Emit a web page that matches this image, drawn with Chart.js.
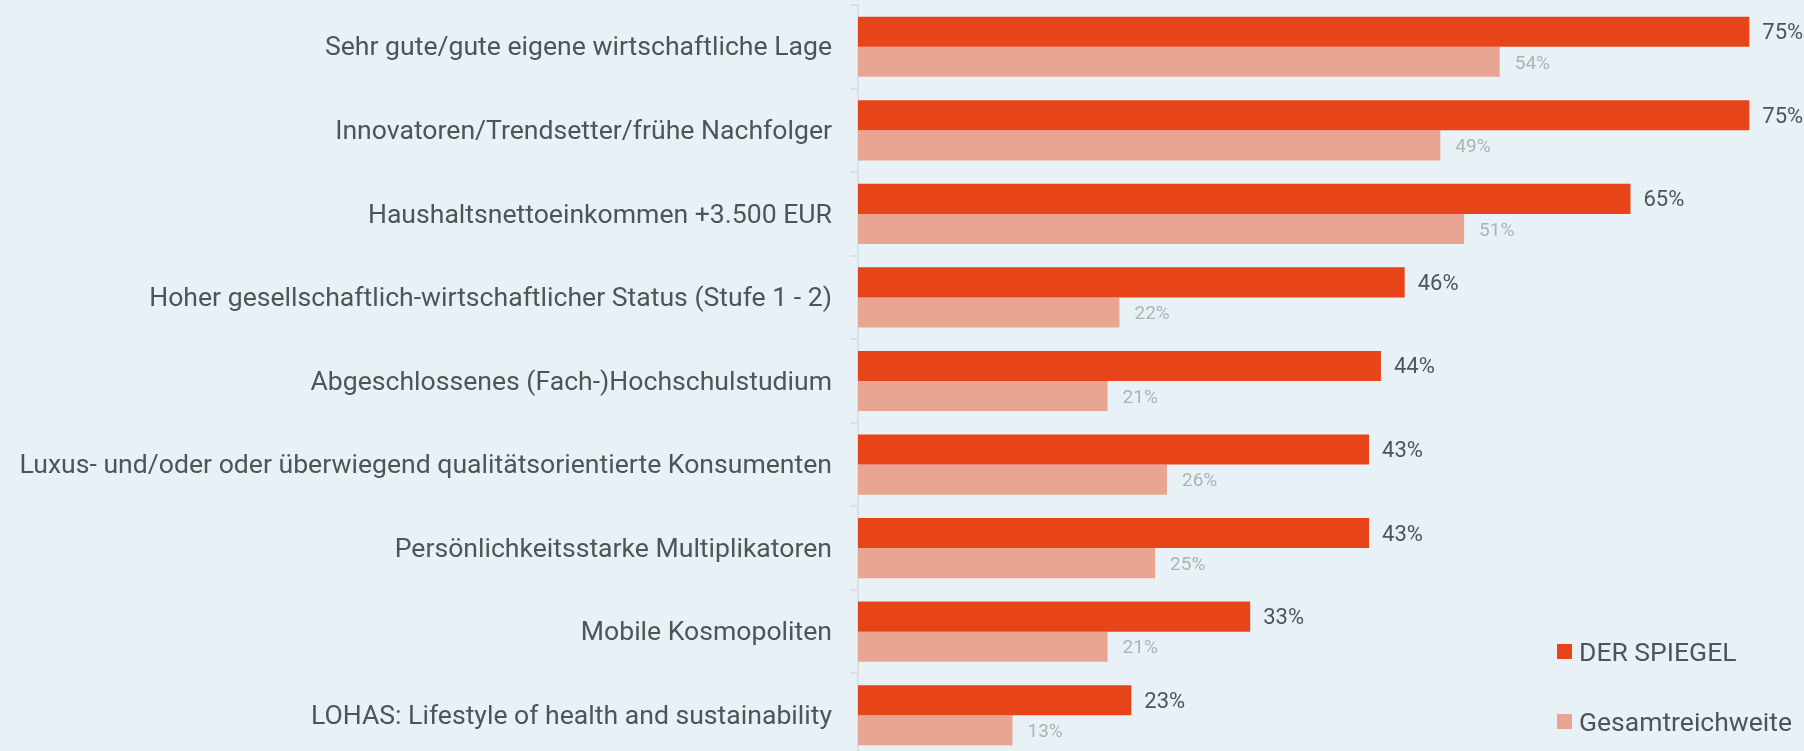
<!DOCTYPE html>
<html lang="de">
<head>
<meta charset="utf-8">
<title>DER SPIEGEL – Reichweite</title>
<script src="https://cdn.jsdelivr.net/npm/chart.js@4/dist/chart.umd.min.js"></script>
<style>
  html, body {
    margin: 0;
    padding: 0;
    width: 1804px;
    height: 751px;
    overflow: hidden;
    background: #e8f1f6;
    font-family: Roboto, 'Noto Sans', sans-serif;
  }
  .grafico {
    position: absolute;
    left: 0;
    top: 0;
    width: 1804px;
    height: 757px;
  }
  .legenda {
    position: absolute;
    left: 1557px;
    top: 633px;
    color: #4b5658;
    font-size: 26.5px;
  }
  .legenda-item {
    display: flex;
    align-items: center;
    height: 36px;
    margin-bottom: 34px;
  }
  .legenda-cor {
    width: 15px;
    height: 15px;
    margin-right: 7px;
  }
</style>
</head>
<body>
<div class="grafico"><canvas id="grafico-zielgruppe"></canvas></div>
<div class="legenda" id="legenda"></div>

<script>
const kategorien = [
  'Sehr gute/gute eigene wirtschaftliche Lage',
  'Innovatoren/Trendsetter/frühe Nachfolger',
  'Haushaltsnettoeinkommen +3.500 EUR',
  'Hoher gesellschaftlich-wirtschaftlicher Status (Stufe 1 - 2)',
  'Abgeschlossenes (Fach-)Hochschulstudium',
  'Luxus- und/oder oder überwiegend qualitätsorientierte Konsumenten',
  'Persönlichkeitsstarke Multiplikatoren',
  'Mobile Kosmopoliten',
  'LOHAS: Lifestyle of health and sustainability',
];

const spiegelWerte = [75, 75, 65, 46, 44, 43, 43, 33, 23];
const gesamtWerte = [54, 49, 51, 22, 21, 26, 25, 21, 13];

const serienNamen = ['DER SPIEGEL', 'Gesamtreichweite'];
const serienFarben = ['#e8441a', '#e8a592'];

const textFarbe = '#4b5658';
const hellTextFarbe = '#a9b4b5';
const achsenFarbe = '#d9e1e4';

// Prozentwerte rechts neben die Balken schreiben
const werteLabels = {
  id: 'werteLabels',
  afterDatasetsDraw(chart) {
    const ctx = chart.ctx;
    ctx.save();
    ctx.textBaseline = 'middle';
    ctx.textAlign = 'left';

    chart.data.datasets.forEach((dataset, index) => {
      const meta = chart.getDatasetMeta(index);
      const istHaupt = index === 0;
      ctx.font = istHaupt ? '22px Roboto' : '19px Roboto';
      ctx.fillStyle = istHaupt ? textFarbe : hellTextFarbe;

      meta.data.forEach((balken, i) => {
        ctx.fillText(`${dataset.data[i]}%`, balken.x + (istHaupt ? 13 : 15), balken.y + 2);
      });
    });

    ctx.restore();
  },
};

function baueLegende() {
  const container = document.querySelector('#legenda');

  serienNamen.forEach((name, i) => {
    const item = document.createElement('div');
    item.className = 'legenda-item';

    const farbe = document.createElement('span');
    farbe.className = 'legenda-cor';
    farbe.style.background = serienFarben[i];

    const text = document.createElement('span');
    text.textContent = name;

    item.appendChild(farbe);
    item.appendChild(text);
    container.appendChild(item);
  });
}

function erstelleGrafik() {
  const kontext = document.querySelector('#grafico-zielgruppe');

  return new Chart(kontext, {
    type: 'bar',
    data: {
      labels: kategorien,
      datasets: [
        {
          label: serienNamen[0],
          data: spiegelWerte,
          backgroundColor: serienFarben[0],
          categoryPercentage: 0.72,
          barPercentage: 1,
        },
        {
          label: serienNamen[1],
          data: gesamtWerte,
          backgroundColor: serienFarben[1],
          categoryPercentage: 0.72,
          barPercentage: 1,
        },
      ],
    },
    options: {
      indexAxis: 'y',
      responsive: true,
      maintainAspectRatio: false,
      animation: false,
      layout: {
        padding: { top: 5, right: 0, bottom: 0, left: 0 },
      },
      scales: {
        x: {
          display: false,
          min: 0,
          max: 79.6,
        },
        y: {
          grid: {
            drawOnChartArea: false,
            drawTicks: true,
            tickLength: 8,
            color: achsenFarbe,
            lineWidth: 2,
          },
          border: {
            display: true,
            color: achsenFarbe,
            width: 2,
          },
          ticks: {
            color: textFarbe,
            padding: 18,
            labelOffset: 2,
            font: { family: 'Roboto', size: 26.6 },
          },
          afterFit: (scale) => {
            // feste Breite, kein Zusatzabstand oben/unten durch die Schrift
            scale.width = 858;
            scale.paddingTop = 0;
            scale.paddingBottom = 0;
          },
        },
      },
      plugins: {
        legend: { display: false },
        tooltip: { enabled: false },
      },
    },
    plugins: [werteLabels],
  });
}

baueLegende();
erstelleGrafik();
</script>
</body>
</html>
